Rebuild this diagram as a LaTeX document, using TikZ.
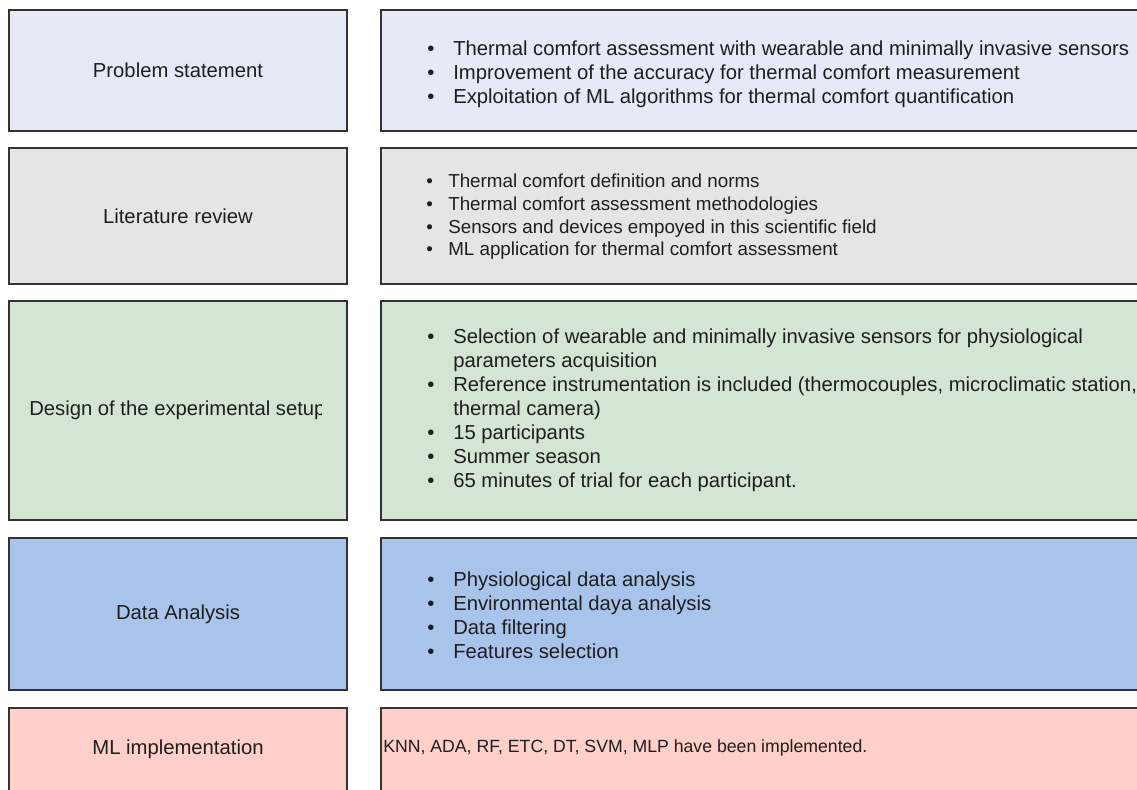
\documentclass[tikz,border=0pt]{standalone}
\usepackage{fontspec}
\setmainfont{Liberation Sans}
\definecolor{bordc}{HTML}{333333}
\definecolor{txt}{HTML}{1E1E1E}
\definecolor{fA}{HTML}{E7E9F6}
\definecolor{fB}{HTML}{E5E5E5}
\definecolor{fC}{HTML}{D5E5D4}
\definecolor{fD}{HTML}{A9C4EB}
\definecolor{fE}{HTML}{FFCFC9}
\newcommand\fs{\fontsize{15.2pt}{18pt}\selectfont}
\newcommand\fsb{\fontsize{14.1pt}{17pt}\selectfont}
\newcommand\fsc{\fontsize{13.25pt}{16pt}\selectfont}
\newcommand\itm[1]{\makebox[19.5pt][l]{\textbullet}#1}
\newcommand\itmb[1]{\makebox[16.5pt][l]{\textbullet}#1}
\newcommand\cnt[1]{\hspace*{19.5pt}#1}
\begin{document}
\begin{tikzpicture}[x=0.75pt,y=-0.75pt,
  box/.style={draw=bordc,line width=1.5pt},
  lab/.style={font=\fs,text=txt,inner sep=0pt},
  lst/.style={font=\fs,text=txt,inner sep=0pt,anchor=west,align=left}]
\useasboundingbox (0,0) rectangle (1137,789);
\clip (0,0) rectangle (1137,789);
% row 1
\draw[box,fill=fA] (9,10) rectangle (347,131);
\draw[box,fill=fA] (381,10) rectangle (1150,131);
\node[lab] (ps) at (178,70.5) {Problem statement};
\node[lst] (psl) at (427,74) {\itm{Thermal comfort assessment with wearable and minimally invasive sensors}\\
\itm{Improvement of the accuracy for thermal comfort measurement}\\
\itm{Exploitation of ML algorithms for thermal comfort quantification}};
% row 2
\draw[box,fill=fB] (9,148) rectangle (347,284);
\draw[box,fill=fB] (381,148) rectangle (1150,284);
\node[lab] (lr) at (178,216) {Literature review};
\node[lst,font=\fsb] (lrl) at (426,217) {\itmb{Thermal comfort definition and norms}\\
\itmb{Thermal comfort assessment methodologies}\\
\itmb{Sensors and devices empoyed in this scientific field}\\
\itmb{ML application for thermal comfort assessment}};
% row 3
\draw[box,fill=fC] (9,301) rectangle (347,520);
\draw[box,fill=fC] (381,301) rectangle (1150,520);
\begin{scope}
\clip (9,301) rectangle (321,520);
\node[lab,anchor=west] (des) at (29,410.5) {Design of the experimental setup};
\end{scope}
\node[lst] (desl) at (427,410.5) {\itm{Selection of wearable and minimally invasive sensors for physiological}\\
\cnt{parameters acquisition}\\
\itm{Reference instrumentation is included (thermocouples, microclimatic station,}\\
\cnt{thermal camera)}\\
\itm{15 participants}\\
\itm{Summer season}\\
\itm{65 minutes of trial for each participant.}};
% row 4
\draw[box,fill=fD] (9,538) rectangle (347,690);
\draw[box,fill=fD] (381,538) rectangle (1150,690);
\node[lab] (da) at (178,614) {Data Analysis};
\node[lst] (dal) at (427,615) {\itm{Physiological data analysis}\\
\itm{Environmental daya analysis}\\
\itm{Data filtering}\\
\itm{Features selection}};
% row 5
\draw[box,fill=fE] (9,708) rectangle (347,791);
\draw[box,fill=fE] (381,708) rectangle (1150,791);
\node[lab] (ml) at (178,749) {ML implementation};
\node[lab,font=\fsc,anchor=west] (mll) at (383,748) {KNN, ADA, RF, ETC, DT, SVM, MLP have been implemented.};
\end{tikzpicture}
\end{document}
